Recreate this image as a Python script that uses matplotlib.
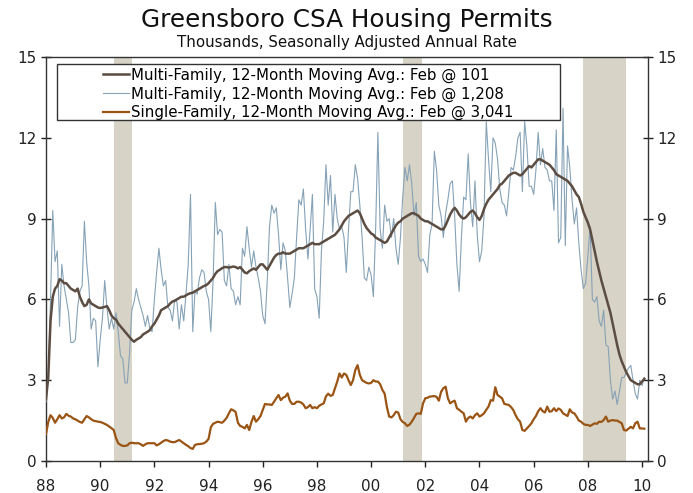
import numpy as np
import matplotlib
matplotlib.use("Agg")
from matplotlib import pyplot as plt
from matplotlib.patches import Rectangle

# monthly data, Jan 1988 - Feb 2010 (thousands, SAAR)
multi_monthly = [
    2.2, 3.1, 6.0, 9.3, 7.4, 7.8, 5.0, 7.3, 6.5, 6.0, 5.5, 4.4,      # 88
    4.4, 4.5, 5.7, 6.3, 6.5, 8.9, 7.4, 6.5, 4.9, 5.3, 5.2, 3.5,      # 89
    4.5, 5.3, 6.7, 5.7, 4.9, 5.3, 4.9, 5.5, 4.8, 3.9, 3.8, 2.9,      # 90
    2.9, 4.0, 5.6, 5.9, 6.4, 6.0, 5.7, 5.4, 5.0, 5.4, 4.9, 4.8,      # 91
    6.0, 7.0, 7.9, 7.1, 6.5, 6.7, 5.7, 5.6, 5.2, 6.0, 5.9, 4.9,      # 92
    5.8, 5.2, 6.2, 7.3, 9.9, 4.8, 6.3, 6.2, 6.8, 7.1, 7.0, 6.3,      # 93
    6.0, 4.8, 6.7, 9.6, 8.4, 8.6, 8.5, 6.7, 6.5, 7.3, 6.4, 6.3,      # 94
    5.8, 6.1, 5.8, 7.9, 7.6, 8.7, 7.9, 7.2, 7.8, 7.2, 6.8, 6.3,      # 95
    5.4, 5.1, 6.7, 8.7, 9.5, 9.2, 9.4, 8.4, 7.1, 8.1, 7.8, 6.8,      # 96
    5.7, 6.2, 6.8, 8.3, 9.7, 9.5, 10.1, 8.6, 7.5, 8.6, 9.9, 6.4,     # 97
    6.1, 5.3, 7.8, 8.9, 11.0, 9.5, 10.6, 8.5, 9.9, 9.0, 8.6, 8.7,    # 98
    8.3, 7.0, 8.6, 10.0, 10.0, 11.0, 10.5, 9.5, 8.3, 6.8, 6.7, 7.2,  # 99
    6.9, 6.1, 8.6, 12.2, 8.6, 7.9, 9.5, 8.9, 9.0, 8.3, 9.0, 7.9,     # 00
    7.3, 8.3, 9.8, 10.9, 10.4, 11.0, 10.3, 9.1, 9.6, 7.6, 7.4, 7.5,  # 01
    7.3, 7.0, 8.4, 8.8, 11.5, 10.8, 9.5, 9.1, 8.3, 9.2, 9.7, 10.3,   # 02
    10.4, 9.1, 7.3, 6.3, 8.3, 9.8, 9.7, 11.4, 9.6, 8.7, 10.4, 8.4,   # 03
    7.4, 7.8, 9.1, 12.6, 11.2, 10.0, 12.0, 11.8, 11.2, 10.1, 9.6, 9.5,   # 04
    9.1, 10.0, 10.9, 10.8, 11.3, 12.0, 12.2, 10.0, 12.6, 11.7, 10.2, 10.2,  # 05
    9.9, 10.8, 12.2, 11.0, 11.6, 10.9, 10.8, 10.4, 10.4, 9.3, 12.3, 8.1,    # 06
    8.3, 13.1, 8.0, 11.7, 10.9, 9.7, 8.8, 9.4, 8.1, 7.1, 6.4, 6.6,   # 07
    7.6, 8.7, 6.0, 5.9, 6.1, 5.2, 5.0, 5.6, 4.3, 4.25, 3.0, 2.3,     # 08
    2.6, 2.1, 2.6, 3.1, 3.1, 3.3, 3.45, 3.55, 3.0, 2.5, 2.3, 3.0,    # 09
    2.8, 3.1,                                                        # 10
]

multi_ma = [
    2.3, 3.1, 5.2, 6.1, 6.4, 6.5, 6.75, 6.7, 6.6, 6.6, 6.5, 6.4,
    6.35, 6.3, 6.4, 6.1, 5.9, 5.75, 5.8, 6.0, 5.85, 5.8, 5.75, 5.7,
    5.68, 5.7, 5.72, 5.75, 5.6, 5.4, 5.3, 5.25, 5.1, 5.0, 4.9, 4.8,
    4.7, 4.6, 4.5, 4.43, 4.5, 4.55, 4.6, 4.7, 4.75, 4.8, 4.86, 5.0,
    5.1, 5.25, 5.4, 5.6, 5.65, 5.7, 5.75, 5.85, 5.92, 5.95, 6.0, 6.05,
    6.1, 6.1, 6.15, 6.2, 6.23, 6.25, 6.3, 6.35, 6.4, 6.45, 6.5, 6.53,
    6.6, 6.7, 6.8, 6.95, 7.05, 7.1, 7.16, 7.2, 7.2, 7.18, 7.2, 7.22,
    7.2, 7.15, 7.2, 7.1, 7.0, 6.97, 7.05, 7.1, 7.15, 7.1, 7.2, 7.3,
    7.3, 7.2, 7.1, 7.25, 7.4, 7.55, 7.65, 7.7, 7.7, 7.75, 7.7, 7.7,
    7.7, 7.75, 7.8, 7.85, 7.9, 7.9, 7.9, 7.95, 8.0, 8.05, 8.1, 8.05,
    8.05, 8.05, 8.1, 8.15, 8.2, 8.25, 8.3, 8.35, 8.4, 8.5, 8.6, 8.75,
    8.9, 9.0, 9.1, 9.15, 9.2, 9.25, 9.3, 9.2, 9.0, 8.8, 8.65, 8.55,
    8.45, 8.4, 8.3, 8.25, 8.2, 8.15, 8.1, 8.15, 8.3, 8.45, 8.6, 8.75,
    8.85, 8.9, 9.0, 9.05, 9.1, 9.15, 9.2, 9.2, 9.15, 9.1, 9.0, 8.95,
    8.9, 8.9, 8.85, 8.8, 8.75, 8.7, 8.65, 8.6, 8.6, 8.75, 8.95, 9.15,
    9.3, 9.4, 9.3, 9.15, 9.05, 9.0, 9.05, 9.15, 9.25, 9.3, 9.2, 9.05,
    8.95, 9.1, 9.35, 9.55, 9.7, 9.8, 9.9, 10.0, 10.1, 10.25, 10.3, 10.4,
    10.5, 10.6, 10.65, 10.7, 10.7, 10.65, 10.6, 10.65, 10.75, 10.85, 10.95, 10.9,
    11.0, 11.1, 11.2, 11.2, 11.15, 11.1, 11.05, 11.0, 10.9, 10.8, 10.65, 10.6,
    10.55, 10.5, 10.45, 10.4, 10.3, 10.2, 10.05, 9.9, 9.8, 9.55, 9.25, 9.05,
    8.85, 8.6, 8.2, 7.8, 7.4, 7.05, 6.7, 6.4, 6.1, 5.8, 5.5, 5.1,
    4.7, 4.3, 3.95, 3.7, 3.5, 3.3, 3.15, 3.0, 2.95, 2.9, 2.85, 2.85,
    2.95, 3.05,
]

single_ma = [
    1.0, 1.45, 1.7, 1.6, 1.42, 1.55, 1.7, 1.58, 1.62, 1.75, 1.68, 1.65,
    1.58, 1.55, 1.5, 1.45, 1.42, 1.55, 1.67, 1.62, 1.55, 1.5, 1.48, 1.46,
    1.45, 1.42, 1.38, 1.34, 1.28, 1.22, 1.15, 0.85, 0.66, 0.6, 0.56, 0.56,
    0.58, 0.66, 0.68, 0.66, 0.66, 0.66, 0.62, 0.56, 0.62, 0.66, 0.66, 0.66,
    0.66, 0.58, 0.62, 0.68, 0.74, 0.78, 0.76, 0.72, 0.70, 0.70, 0.74, 0.78,
    0.72, 0.66, 0.6, 0.55, 0.48, 0.45, 0.6, 0.62, 0.63, 0.64, 0.66, 0.72,
    0.82, 1.25, 1.38, 1.42, 1.46, 1.44, 1.42, 1.5, 1.6, 1.77, 1.92, 1.88,
    1.82, 1.42, 1.3, 1.27, 1.21, 1.34, 1.15, 1.45, 1.67, 1.46, 1.55, 1.67,
    1.89, 2.12, 2.1, 2.1, 2.08, 2.2, 2.33, 2.45, 2.26, 2.35, 2.39, 2.51,
    2.24, 2.12, 2.12, 2.2, 2.2, 2.17, 2.1, 1.96, 2.0, 2.08, 1.96, 2.0,
    1.96, 2.05, 2.1, 2.14, 2.4, 2.5, 2.42, 2.45, 2.7, 2.95, 3.25, 3.1,
    3.25, 3.2, 3.0, 2.82, 3.0, 3.38, 3.56, 3.2, 3.0, 2.95, 2.9, 2.88,
    2.9, 3.0, 2.95, 2.95, 2.85, 2.64, 2.5, 2.0, 1.65, 1.62, 1.7, 1.83,
    1.8, 1.55, 1.45, 1.4, 1.3, 1.35, 1.46, 1.6, 1.75, 1.77, 1.75, 2.14,
    2.33, 2.35, 2.39, 2.4, 2.41, 2.38, 2.24, 2.57, 2.7, 2.76, 2.33, 2.14,
    2.2, 2.24, 1.96, 1.9, 1.83, 1.77, 1.46, 1.6, 1.65, 1.58, 1.7, 1.77,
    1.65, 1.7, 1.77, 1.9, 2.02, 2.26, 2.24, 2.74, 2.45, 2.39, 2.33, 2.12,
    2.1, 2.08, 2.0, 1.89, 1.7, 1.55, 1.46, 1.15, 1.12, 1.21, 1.3, 1.4,
    1.55, 1.67, 1.85, 1.96, 1.85, 1.8, 2.02, 1.83, 1.85, 1.96, 1.85, 1.95,
    1.9, 1.77, 1.72, 1.67, 1.92, 1.8, 1.77, 1.65, 1.5, 1.46, 1.38, 1.34,
    1.34, 1.3, 1.35, 1.4, 1.38, 1.46, 1.45, 1.52, 1.65, 1.46, 1.5, 1.52,
    1.5, 1.5, 1.45, 1.4, 1.15, 1.13, 1.2, 1.27, 1.21, 1.4, 1.46, 1.21,
    1.21, 1.2,
]

recessions = [(1990.5, 1991.17), (2001.17, 2001.88), (2007.83, 2009.42)]

tick_years = [1988, 1990, 1992, 1994, 1996, 1998, 2000, 2002, 2004, 2006, 2008, 2010]
tick_labels = ["88", "90", "92", "94", "96", "98", "00", "02", "04", "06", "08", "10"]

labels = ["Multi-Family, 12-Month Moving Avg.: Feb @ 101",
          "Multi-Family, 12-Month Moving Avg.: Feb @ 1,208",
          "Single-Family, 12-Month Moving Avg.: Feb @ 3,041"]

x = 1988 + np.arange(len(multi_monthly)) / 12.0

plt.rcParams["font.family"] = "DejaVu Sans"

fig = plt.figure(figsize=(6.93, 4.93), dpi=100)
ax = fig.add_axes([46/693, 32/493, 602/693, 404/493])

for a, b in recessions:
    ax.axvspan(a, b, color="#d7d3c6", lw=0, zorder=0)

l1, = ax.plot(x, multi_ma, color="#5c4d42", lw=1.8, zorder=4)
l2, = ax.plot(x, multi_monthly, color="#86a2b6", lw=0.8, zorder=3)
l3, = ax.plot(x, single_ma, color="#9a5414", lw=1.6, zorder=4)

ax.set_xlim(1988, 2010.22)
ax.set_ylim(0, 15)
ax.set_yticks([0, 3, 6, 9, 12, 15])
ax.set_xticks(tick_years)
ax.set_xticklabels(tick_labels)
ax.tick_params(axis="y", direction="inout", length=7, width=1, labelsize=11,
               right=True, labelright=True, pad=3, colors="#222222")
ax.tick_params(axis="x", direction="out", length=4, width=1, labelsize=11,
               pad=9, colors="#222222")
for s in ax.spines.values():
    s.set_color("#333333")
    s.set_linewidth(1)

# legend box
ax.add_patch(Rectangle((11/602, (461-120)/404), (560-57)/602, 56/404,
                       transform=ax.transAxes, facecolor="white",
                       edgecolor="#333333", lw=1, zorder=8))
leg = ax.legend([l1, l2, l3], labels, loc="upper left",
                bbox_to_anchor=(57/602, (461-67.5)/404), frameon=False,
                fontsize=10.8, handlelength=1.7, handletextpad=0.15,
                labelspacing=0.24, borderpad=0, borderaxespad=0)
leg.set_zorder(9)

fig.text(0.5, 1 - 27/493, "Greensboro CSA Housing Permits", ha="center",
         va="baseline", fontsize=17.8, color="#111111")
fig.text(0.5, 1 - 46.5/493, "Thousands, Seasonally Adjusted Annual Rate",
         ha="center", va="baseline", fontsize=10.8, color="#111111")

fig.savefig("out.png", dpi=100)
